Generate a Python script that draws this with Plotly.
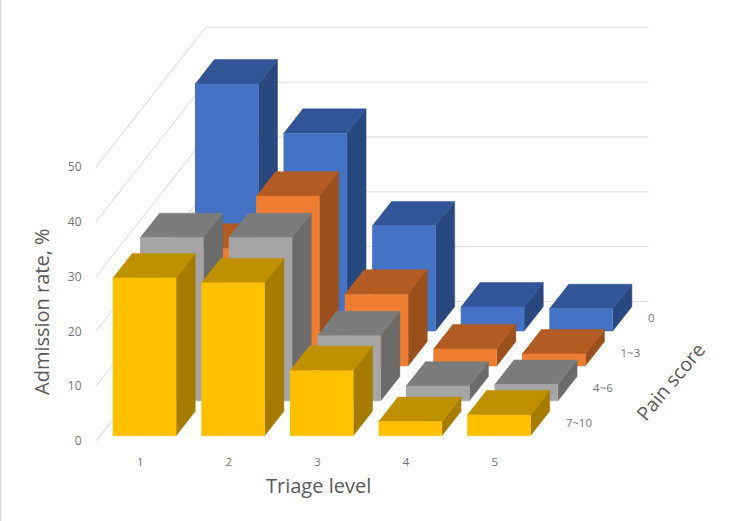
import plotly.graph_objects as go

# ---- data ----
triage_levels = [1, 2, 3, 4, 5]
pain_labels = ["7~10", "4~6", "1~3", "0"]
pain_7_10 = [28.8, 27.9, 11.9, 2.6, 3.8]
pain_4_6 = [29.8, 29.8, 11.9, 2.7, 3.0]
pain_1_3 = [21.5, 31.0, 13.1, 3.1, 2.2]
pain_0 = [45.1, 36.1, 19.2, 4.4, 4.1]
rate_ticks = [0, 10, 20, 30, 40, 50]

series = [pain_7_10, pain_4_6, pain_1_3, pain_0]
front_colors = ["#FFC000", "#A5A5A5", "#ED7D31", "#4472C4"]
top_colors = ["#BF9000", "#7C7C7C", "#B25B22", "#325597"]
side_colors = ["#A67C00", "#6B6B6B", "#9A4F1C", "#2A4880"]

# ---- page geometry and oblique projection ----
W, H = 755, 521
L, R, T, B = 88, 700, 10, 448
PX_X1, PX_PER_X = 140.3, 88.6
PX_Y0, PX_PER_PCT = 441.0, 5.48
KX = 27.4 / PX_PER_X
KY = 34.9 / PX_PER_PCT
BAR_W, BAR_D = 0.715, 0.70
FRONT = 0.15
BAR_SHIFT = 0.0


def proj(x, d, h):
    return x + d * KX, h + d * KY


def add_polys(fig, polys, color, name):
    xs, ys = [], []
    for poly in polys:
        for x, d, h in poly:
            px, py = proj(x, d, h)
            xs.append(px)
            ys.append(py)
        xs.append(None)
        ys.append(None)
    fig.add_trace(go.Scatter(x=xs, y=ys, mode="lines", fill="toself", fillcolor=color,
                             line=dict(color=color, width=0.5), name=name,
                             hoverinfo="skip", showlegend=False))


fig = go.Figure()

# gridlines on the side and back walls
DEPTH = 4.0
for v in rate_ticks:
    ax, ay = proj(0.5, 0, v)
    bx, by = proj(0.5, DEPTH, v)
    cx, cy = proj(5.5, DEPTH, v)
    fig.add_trace(go.Scatter(x=[ax, bx, cx], y=[ay, by, cy], mode="lines",
                             line=dict(color="#E2E2E2", width=1.3),
                             hoverinfo="skip", showlegend=False))

# bars, back row first
for r in range(3, -1, -1):
    d0, d1 = r + FRONT, r + FRONT + BAR_D
    fronts, tops, sides = [], [], []
    for i, v in zip(triage_levels, series[r]):
        x0, x1 = i - BAR_W / 2 + BAR_SHIFT, i + BAR_W / 2 + BAR_SHIFT
        fronts.append([(x0, d0, 0), (x1, d0, 0), (x1, d0, v), (x0, d0, v)])
        tops.append([(x0, d0, v), (x1, d0, v), (x1, d1, v), (x0, d1, v)])
        sides.append([(x1, d0, 0), (x1, d1, 0), (x1, d1, v), (x1, d0, v)])
    add_polys(fig, sides, side_colors[r], pain_labels[r] + " side")
    add_polys(fig, tops, top_colors[r], pain_labels[r] + " top")
    add_polys(fig, fronts, front_colors[r], pain_labels[r])

# pain score depth labels
lab = [proj(5.65, r + 0.49, 0) for r in range(4)]
fig.add_trace(go.Scatter(x=[p[0] for p in lab], y=[p[1] for p in lab], mode="text",
                         text=pain_labels, textposition="middle right",
                         textfont=dict(family="Open Sans", size=11.5, color="#757575"),
                         hoverinfo="skip", showlegend=False))


def page_x(px):
    return (px - L) / (R - L)


def page_y(py):
    return (B - py) / (B - T)


def title(text, px, py, size, angle=0):
    return dict(text=text, xref="paper", yref="paper", x=page_x(px), y=page_y(py),
                xanchor="center", yanchor="middle", showarrow=False, textangle=angle,
                font=dict(family="Open Sans", size=size, color="#595959"))


fig.update_layout(
    width=W, height=H, autosize=False,
    margin=dict(l=L, r=W - R, t=T, b=H - B, pad=0),
    paper_bgcolor="white", plot_bgcolor="white",
    font=dict(family="Open Sans", color="#595959"),
    xaxis=dict(range=[1 + (L - PX_X1) / PX_PER_X, 1 + (R - PX_X1) / PX_PER_X],
               tickmode="array", tickvals=triage_levels, ticktext=[str(t) for t in triage_levels],
               showgrid=False, zeroline=False, showline=False,
               ticks="outside", ticklen=3, tickcolor="rgba(0,0,0,0)",
               tickfont=dict(size=11.5, color="#757575")),
    yaxis=dict(range=[(PX_Y0 - B) / PX_PER_PCT, (PX_Y0 - T) / PX_PER_PCT],
               tickmode="array", tickvals=rate_ticks,
               showgrid=False, zeroline=False, showline=False,
               ticks="outside", ticklen=3, tickcolor="rgba(0,0,0,0)",
               tickfont=dict(size=12, color="#757575")),
    annotations=[
        title("Admission rate, %", 41, 312, 20, -90),
        title("Triage level", 318, 485, 20),
        title("Pain score", 670, 381, 19.5, -50),
    ],
    shapes=[dict(type="line", xref="paper", yref="paper", layer="below",
                 x0=page_x(0.5), x1=page_x(0.5), y0=page_y(0), y1=page_y(H),
                 line=dict(color="#D9D9D9", width=1.5))],
)

fig.write_html("out.html", config={"displayModeBar": False},
               post_script="document.body.style.margin='0';")
